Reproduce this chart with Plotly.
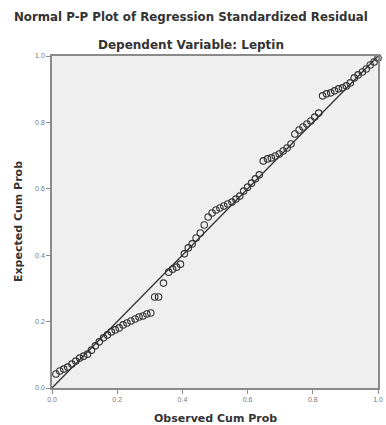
import plotly.graph_objects as go

# Observed vs expected cumulative probabilities of the standardized residuals
observed_cum_prob = [
    0.012, 0.024, 0.036, 0.048, 0.061, 0.073, 0.085, 0.097, 0.109, 0.121,
    0.133, 0.145, 0.158, 0.170, 0.182, 0.194, 0.206, 0.218, 0.230, 0.242,
    0.255, 0.267, 0.279, 0.291, 0.303, 0.315, 0.327, 0.342, 0.358, 0.370,
    0.382, 0.394, 0.406, 0.418, 0.430, 0.442, 0.455, 0.467, 0.479, 0.491,
    0.503, 0.515, 0.527, 0.539, 0.552, 0.564, 0.576, 0.588, 0.600, 0.612,
    0.624, 0.636, 0.648, 0.661, 0.673, 0.685, 0.697, 0.709, 0.721, 0.733,
    0.745, 0.758, 0.770, 0.782, 0.794, 0.806, 0.818, 0.830, 0.842, 0.855,
    0.867, 0.879, 0.891, 0.903, 0.915, 0.927, 0.939, 0.952, 0.964, 0.976,
    0.988, 1.000,
]
expected_cum_prob = [
    0.042, 0.051, 0.057, 0.063, 0.072, 0.081, 0.090, 0.096, 0.102, 0.114,
    0.127, 0.139, 0.151, 0.160, 0.169, 0.175, 0.181, 0.190, 0.196, 0.202,
    0.208, 0.214, 0.217, 0.223, 0.226, 0.274, 0.274, 0.316, 0.349, 0.358,
    0.364, 0.373, 0.404, 0.422, 0.434, 0.452, 0.467, 0.491, 0.515, 0.527,
    0.536, 0.542, 0.548, 0.554, 0.560, 0.569, 0.578, 0.593, 0.605, 0.617,
    0.630, 0.642, 0.684, 0.690, 0.693, 0.699, 0.705, 0.714, 0.723, 0.735,
    0.765, 0.777, 0.786, 0.795, 0.804, 0.816, 0.828, 0.880, 0.886, 0.889,
    0.895, 0.901, 0.904, 0.910, 0.919, 0.934, 0.943, 0.952, 0.961, 0.973,
    0.982, 0.994,
]
tick_values = [0.0, 0.2, 0.4, 0.6, 0.8, 1.0]
tick_labels = ["0.0", "0.2", "0.4", "0.6", "0.8", "1.0"]
reference_line = [0.0, 1.0]

INK = "#333333"
AXIS = "#8a8a8a"
TEXT_FONT = "DejaVu Sans"

fig = go.Figure()
fig.add_trace(go.Scatter(
    x=reference_line, y=reference_line, mode="lines",
    line=dict(color=INK, width=1.3), hoverinfo="skip", cliponaxis=False,
))
fig.add_trace(go.Scatter(
    x=observed_cum_prob, y=expected_cum_prob, mode="markers",
    marker=dict(symbol="circle-open", size=6.5, color=INK, line=dict(width=1.1)),
    cliponaxis=False,
))

axis_common = dict(
    range=[0, 1], tickvals=tick_values, ticktext=tick_labels,
    showgrid=False, zeroline=False, showline=True, mirror=True,
    linecolor=AXIS, linewidth=1.5, ticks="outside", ticklen=4,
    tickcolor=AXIS, tickfont=dict(family="Liberation Sans", size=7, color="#777777"),
)

fig.update_layout(
    width=386, height=425,
    margin=dict(l=52, r=3, t=56, b=37),
    paper_bgcolor="white", plot_bgcolor="#efefef",
    showlegend=False,
    xaxis=dict(**axis_common),
    yaxis=dict(**axis_common),
    annotations=[
        # heading lines, centred on the page, positioned in pixels above the frame
        dict(text="<b>Normal P-P Plot of Regression Standardized Residual</b>",
             x=0.5, y=1.0, xref="paper", yref="paper", xanchor="center",
             yanchor="middle", xshift=-24, yshift=39, showarrow=False,
             font=dict(family=TEXT_FONT, size=11.8, color="#333333")),
        dict(text="<b>Dependent Variable: Leptin</b>",
             x=0.5, y=1.0, xref="paper", yref="paper", xanchor="center",
             yanchor="middle", xshift=-24, yshift=11, showarrow=False,
             font=dict(family=TEXT_FONT, size=12, color="#333333")),
        dict(text="<b>Expected Cum Prob</b>", x=0.0, y=0.5, xref="paper", yref="paper",
             xanchor="center", yanchor="middle", textangle=-90, xshift=-34,
             showarrow=False,
             font=dict(family=TEXT_FONT, size=11, color="#333333")),
        dict(text="<b>Observed Cum Prob</b>", x=0.5, y=0.0, xref="paper", yref="paper",
             xanchor="center", yanchor="top", yshift=-22, showarrow=False,
             font=dict(family=TEXT_FONT, size=11, color="#333333")),
    ],
)

fig.write_html("out.html")
